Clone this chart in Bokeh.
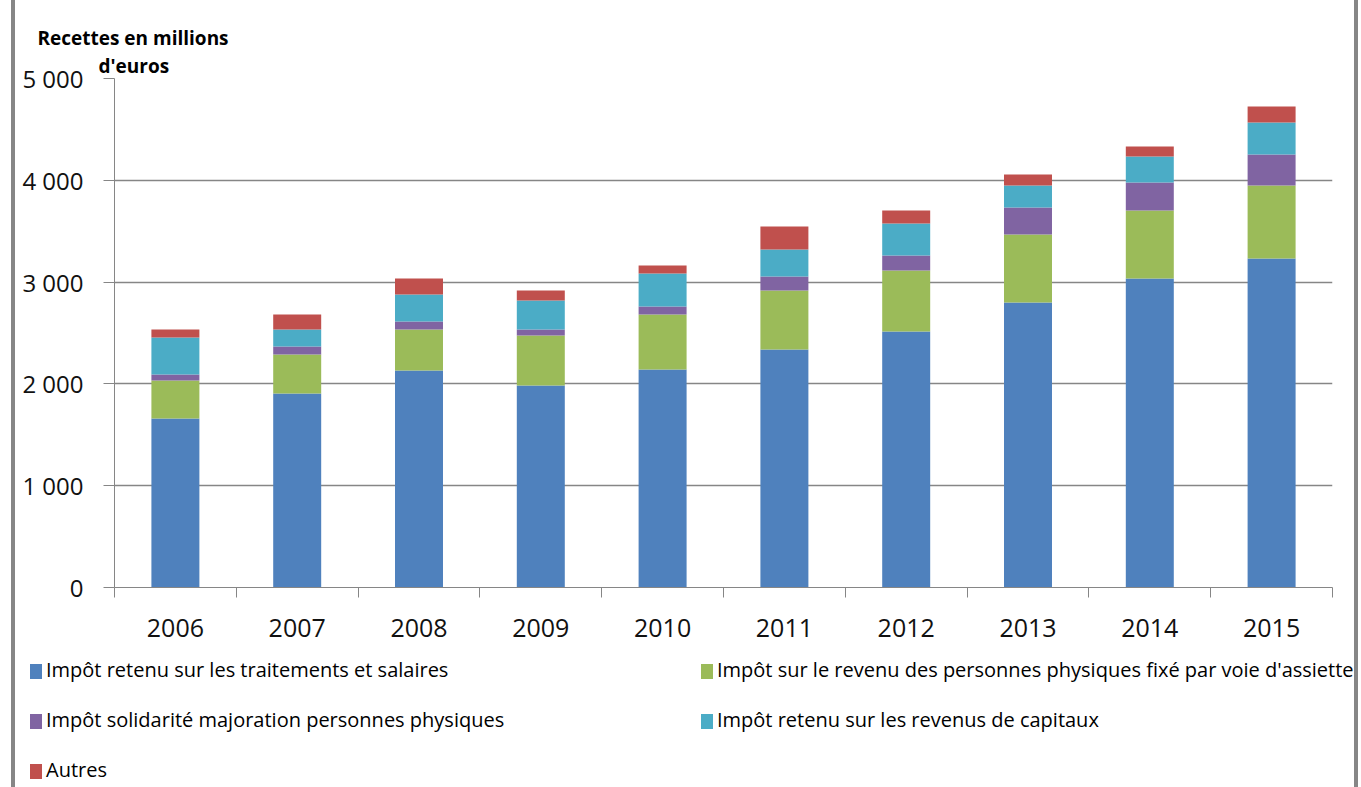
from bokeh.plotting import figure
from bokeh.layouts import column
from bokeh.models import (ColumnDataSource, Range1d, FixedTicker, Title, InlineStyleSheet, Div)
from bokeh.embed import file_html
from bokeh.resources import INLINE

years = ["2006", "2007", "2008", "2009", "2010", "2011", "2012", "2013", "2014", "2015"]
salaires = [1660, 1906, 2132, 1984, 2141, 2338, 2515, 2800, 3035, 3232]
assiette = [373, 383, 402, 491, 541, 579, 599, 668, 668, 717]
solidarite = [59, 78, 79, 59, 78, 138, 147, 265, 275, 304]
capitaux = [364, 167, 265, 285, 324, 265, 315, 216, 256, 315]
autres = [78, 148, 157, 98, 79, 226, 127, 108, 98, 157]

series_names = [
    "Impôt retenu sur les traitements et salaires",
    "Impôt sur le revenu des personnes physiques fixé par voie d'assiette",
    "Impôt solidarité majoration personnes physiques",
    "Impôt retenu sur les revenus de capitaux",
    "Autres",
]
colors = ["#4F81BD", "#9BBB59", "#8064A2", "#4BACC6", "#C0504D"]
y_ticks = [0, 1000, 2000, 3000, 4000, 5000]
y_tick_labels = ["0", "1 000", "2 000", "3 000", "4 000", "5 000"]

idx = list(range(len(years)))
source = ColumnDataSource(dict(x=idx, s1=salaires, s2=assiette, s3=solidarite,
                               s4=capitaux, s5=autres))

FONT = "Open Sans"
GRAY = "#868686"
W = 1361
H_MAIN = 655
H_LEG = 787 - H_MAIN

border_css = InlineStyleSheet(css="""
:host::before {content: ""; position: absolute; left: 11px; top: 0; width: 4px; height: 100%; background: #868686; z-index: 10;}
:host::after {content: ""; position: absolute; left: 1354px; top: 0; width: 4px; height: 100%; background: #868686; z-index: 10;}
""")

p = figure(width=W, height=H_MAIN, x_range=Range1d(-0.5, 9.5), y_range=Range1d(0, 5000),
           output_backend="svg", toolbar_location=None,
           min_border_left=114, min_border_right=29, min_border_top=78,
           min_border_bottom=H_MAIN - 587)
p.outline_line_color = None
p.background_fill_color = "white"
p.border_fill_color = "white"

renderers = p.vbar_stack(["s1", "s2", "s3", "s4", "s5"], x="x", width=0.394, source=source,
                         color=colors, line_color=None)

# y axis
p.yaxis.ticker = FixedTicker(ticks=y_ticks)
p.yaxis.major_label_overrides = {t: l for t, l in zip(y_ticks, y_tick_labels)}
p.yaxis.axis_line_color = GRAY
p.yaxis.major_tick_line_color = GRAY
p.yaxis.major_tick_out = 11
p.yaxis.major_tick_in = 0
p.yaxis.minor_tick_line_color = None
p.yaxis.major_label_standoff = 20
p.yaxis.major_label_text_font = FONT
p.yaxis.major_label_text_font_size = "24px"
p.yaxis.major_label_text_color = "#111111"

# x axis
p.xaxis.ticker = FixedTicker(ticks=idx, minor_ticks=[i - 0.5 for i in range(len(years) + 1)])
p.xaxis.major_label_overrides = {i: y for i, y in enumerate(years)}
p.xaxis.axis_line_color = GRAY
p.xaxis.major_tick_line_color = None
p.xaxis.major_tick_out = 0
p.xaxis.major_tick_in = 0
p.xaxis.minor_tick_line_color = GRAY
p.xaxis.minor_tick_out = 10
p.xaxis.minor_tick_in = 0
p.xaxis.major_label_standoff = 21
p.xaxis.major_label_text_font = FONT
p.xaxis.major_label_text_font_size = "25px"
p.xaxis.major_label_text_color = "#111111"

p.xgrid.grid_line_color = None
p.ygrid.grid_line_color = GRAY
p.ygrid.grid_line_width = 1.5
p.ygrid.ticker = FixedTicker(ticks=y_ticks)

# title text (two lines, centred on each other)
p.title.text = "Recettes en millions"
p.title.align = "left"
p.title.offset = -77
p.title.standoff = 0
p.title.text_font = FONT
p.title.text_font_size = "19px"
p.title.text_font_style = "bold"
p.title.text_color = "#000000"
p.add_layout(Title(text="d'euros", align="left", offset=-16, standoff=0,
                   text_font=FONT, text_font_size="19px", text_font_style="bold",
                   text_color="#000000"), "above")
p.stylesheets = [border_css]

# legend (two columns, three rows)
legend_pos = [(30, 5), (701, 5), (30, 55), (701, 55), (30, 105)]
items_html = ""
for name, col, (lx, ty) in zip(series_names, colors, legend_pos):
    items_html += (
        f'<div style="position:absolute;left:{lx}px;top:{ty}px;white-space:nowrap;'
        f'line-height:20px;height:20px;">'
        f'<span style="display:inline-block;width:12px;height:15px;background:{col};'
        f'vertical-align:-2px;margin-right:4px;"></span>{name}</div>'
    )
legend_div = Div(
    text=(f'<div style="position:relative;width:{W}px;height:{H_LEG}px;'
          f'font-family:\'{FONT}\';font-size:20px;color:#000;">{items_html}</div>'),
    width=W, height=H_LEG, margin=0)
legend_div.stylesheets = [border_css]

layout = column(p, legend_div, spacing=0)
open("out.html", "w").write(file_html(layout, INLINE))
